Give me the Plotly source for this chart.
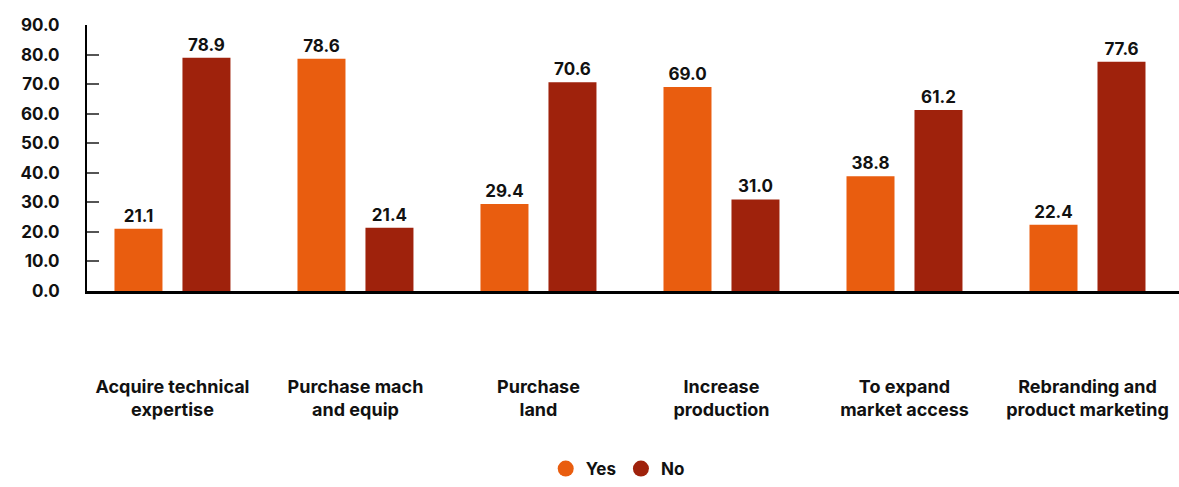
import plotly.graph_objects as go

categories = [
    "Acquire technical<br>expertise",
    "Purchase mach<br>and equip",
    "Purchase<br>land",
    "Increase<br>production",
    "To expand<br>market access",
    "Rebranding and<br>product marketing",
]
yes_values = [21.1, 78.6, 29.4, 69.0, 38.8, 22.4]
no_values = [78.9, 21.4, 70.6, 31.0, 61.2, 77.6]
y_ticks = [0, 10, 20, 30, 40, 50, 60, 70, 80, 90]

YES_COLOR = "#E95D0F"
NO_COLOR = "#9F220C"
FONT = "Inter"

x_pos = list(range(len(categories)))

fig = go.Figure()
for name, vals, color in [("Yes", yes_values, YES_COLOR), ("No", no_values, NO_COLOR)]:
    fig.add_trace(go.Bar(
        x=x_pos, y=vals, name=name, marker_color=color, marker_line_width=0,
        texttemplate="%{y:.1f}", textposition="outside",
        textfont=dict(family=FONT, size=17, color="#111111", weight="bold"),
        cliponaxis=False, showlegend=False,
    ))
    # circular legend entries
    fig.add_trace(go.Scatter(
        x=[None], y=[None], mode="markers", name=name,
        marker=dict(symbol="circle", size=22, color=color),
    ))

fig.update_layout(
    width=1179, height=487,
    margin=dict(l=87, r=0, t=25, b=194),
    paper_bgcolor="white", plot_bgcolor="white",
    barmode="group", bargap=0.257, bargroupgap=0.294,
    font=dict(family=FONT, color="#111111"),
    legend=dict(
        orientation="h", x=0.486, xanchor="center", y=-0.67, yanchor="middle",
        font=dict(family=FONT, size=17, color="#111111", weight="bold"),
        itemsizing="trace", itemwidth=30, traceorder="normal",
    ),
    xaxis=dict(
        range=[-0.467, 5.5],
        tickmode="array", tickvals=x_pos, ticktext=categories,
        tickfont=dict(family=FONT, size=18, color="#111111", weight="bold"),
        ticklabelstandoff=77, ticks="",
        showline=True, linecolor="#000000", linewidth=3,
        showgrid=False, zeroline=False,
    ),
    yaxis=dict(
        range=[0, 90],
        tickmode="array", tickvals=y_ticks,
        ticktext=[f"{v:.1f}" for v in y_ticks],
        tickfont=dict(family=FONT, size=17, color="#111111", weight="bold"),
        ticks="inside", ticklen=12, tickwidth=2, tickcolor="#555555",
        ticklabelstandoff=22,
        showline=True, linecolor="#000000", linewidth=2,
        showgrid=False, zeroline=False,
    ),
)

fig.write_html("out.html")
